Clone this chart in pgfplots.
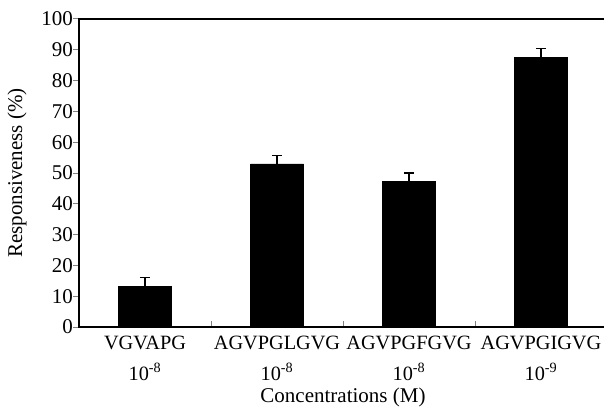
\documentclass[border=0pt]{standalone}
\usepackage{fontspec}
\setmainfont{Liberation Serif}
\usepackage{pgfplots}
\pgfplotsset{compat=1.18}
\begin{document}
\fontsize{21}{25}\selectfont
\begin{tikzpicture}
\useasboundingbox (-79pt,-88pt) rectangle (525pt,327pt);
\begin{axis}[
  at={(0,0)}, anchor=south west,
  scale only axis, width=528pt, height=308pt,
  xmin=-0.5, xmax=3.5, ymin=0, ymax=100,
  axis line style={line width=1.2pt},
  /pgf/number format/assume math mode=true,
  ytick={0,10,...,100}, ytick pos=left,
  xtick={0.5,1.5,2.5}, xticklabels={}, xtick pos=bottom,
  tick align=inside, major tick length=6pt,
  ytick style={xshift=-6pt, line width=1pt},
  xtick style={line width=1pt},
  extra x ticks={0,1,2,3},
  extra x tick labels={{VGVAPG\\10\textsuperscript{-8}},{AGVPGLGVG\\10\textsuperscript{-8}},{AGVPGFGVG\\10\textsuperscript{-8}},{AGVPGIGVG\\10\textsuperscript{-9}}},
  extra x tick style={major tick length=0pt},
  xticklabel style={align=center, font=\fontsize{20.3}{31}\selectfont, yshift=-1.5pt},
  yticklabel style={font=\fontsize{21}{25}\selectfont, xshift=1pt},
  every axis y label/.style={at={(axis description cs:0,0.5)}, rotate=90, anchor=center, yshift=62pt, font=\fontsize{21}{25}\selectfont},
  every axis x label/.style={at={(axis description cs:0.5,0)}, anchor=center, yshift=-70pt, font=\fontsize{21}{25}\selectfont},
  ylabel={Responsiveness (\%)},
  xlabel={Concentrations (M)},
]
\addplot[ybar, bar width=0.4, fill=black, draw=black,
  error bars/.cd, y dir=plus, y explicit,
  error bar style={line width=1.2pt, black},
  error mark options={rotate=90, mark size=5pt, line width=1.2pt, black}]
  table[x=x, y=y, y error=e] {
x y e
0 13.2 2.8
1 53.0 2.8
2 47.2 2.8
3 87.6 2.8
};
\end{axis}
\end{tikzpicture}
\end{document}
